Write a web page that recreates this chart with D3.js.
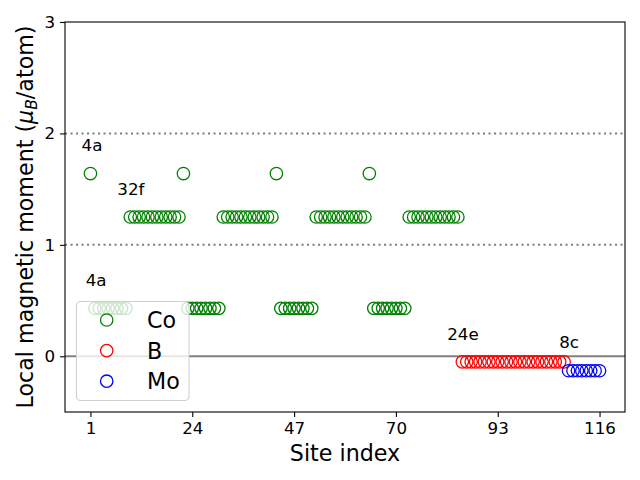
<!DOCTYPE html>
<html><head><meta charset="utf-8">
<script src="https://cdn.jsdelivr.net/npm/d3@7"></script>
<style>body{margin:0;background:#fff}text{font-family:"DejaVu Sans",sans-serif}</style>
</head><body><svg id="c" width="640" height="480"></svg>
<script>
// Site indices and moments (μB/atom)
const coSites = d3.range(1, 85);
// per 21-site block: 4a (high), 8 low, 12 at 32f level
const coBlock = [1.64, 0.43,0.43,0.43,0.43,0.43,0.43,0.43,0.43,
  1.25,1.25,1.25,1.25,1.25,1.25,1.25,1.25,1.25,1.25,1.25,1.25];
const coValues = [...coBlock, ...coBlock, ...coBlock, ...coBlock];
const bSites = d3.range(85, 109);
const bValues = [-0.05,-0.05,-0.05,-0.05,-0.05,-0.05,-0.05,-0.05,-0.05,-0.05,-0.05,-0.05,
  -0.05,-0.05,-0.05,-0.05,-0.05,-0.05,-0.05,-0.05,-0.05,-0.05,-0.05,-0.05];
const moSites = d3.range(109, 117);
const moValues = [-0.13,-0.13,-0.13,-0.13,-0.13,-0.13,-0.13,-0.13];
const xTicks = [1, 24, 47, 70, 93, 116];
const yTicks = [0, 1, 2, 3];
const labelText = ["4a", "32f", "4a", "24e", "8c"];
const labelX = [-1.0, 7.06, -0.07, 81.6, 106.9];
const labelY = [1.84, 1.45, 0.63, 0.145, 0.07];
const seriesNames = ["Co", "B", "Mo"];
const seriesColors = ["green", "red", "blue"];

const svg = d3.select("#c");
const L = 65, R = 625, T = 22, B = 412;
const x = d3.scaleLinear().domain([-4.75, 121.75]).range([L, R]);
const y = d3.scaleLinear().domain([-0.5, 3]).range([B, T]);

// reference lines
svg.selectAll("line.ref").data([1, 2]).join("line")
  .attr("x1", L).attr("x2", R).attr("y1", d => y(d)).attr("y2", d => y(d))
  .attr("stroke", "#808080").attr("stroke-width", 2).attr("stroke-dasharray", "2.1,3.4");
svg.append("line").attr("x1", L).attr("x2", R).attr("y1", y(0)).attr("y2", y(0))
  .attr("stroke", "#808080").attr("stroke-width", 2);

const series = [
  {sites: coSites, vals: coValues, color: seriesColors[0]},
  {sites: bSites, vals: bValues, color: seriesColors[1]},
  {sites: moSites, vals: moValues, color: seriesColors[2]}
];
series.forEach(s => {
  svg.append("g").selectAll("circle").data(s.sites).join("circle")
    .attr("cx", d => x(d)).attr("cy", (d, i) => y(s.vals[i])).attr("r", 6.2)
    .attr("fill", "none").attr("stroke", s.color).attr("stroke-width", 1.3);
});

// annotations
svg.append("g").selectAll("text").data(labelText).join("text")
  .attr("x", (d, i) => x(labelX[i])).attr("y", (d, i) => y(labelY[i]))
  .attr("font-size", 16.7).attr("fill", "#000").text(d => d);

// axes
const xa = svg.append("g").attr("transform", `translate(0,${B})`)
  .call(d3.axisBottom(x).tickValues(xTicks).tickFormat(d3.format("d")).tickSize(4.9).tickPadding(4.9).tickSizeOuter(0));
const ya = svg.append("g").attr("transform", `translate(${L},0)`)
  .call(d3.axisLeft(y).tickValues(yTicks).tickFormat(d3.format("d")).tickSize(4.9).tickPadding(4.9).tickSizeOuter(0));
[xa, ya].forEach(a => {
  a.select(".domain").remove();
  a.selectAll("text").attr("font-size", 16.7).attr("font-family", "DejaVu Sans").attr("fill", "#000");
  a.selectAll("line").attr("stroke", "#000").attr("stroke-width", 1.1);
});
svg.append("rect").attr("x", L).attr("y", T).attr("width", R - L).attr("height", B - T)
  .attr("fill", "none").attr("stroke", "#000").attr("stroke-width", 1.1);

// axis labels
svg.append("text").attr("x", (L + R) / 2).attr("y", 461).attr("text-anchor", "middle")
  .attr("font-size", 22.2).text("Site index");
const yl = svg.append("text").attr("transform", `translate(33,${(T + B) / 2}) rotate(-90)`)
  .attr("text-anchor", "middle").attr("font-size", 22.2);
yl.append("tspan").text("Local magnetic moment (");
yl.append("tspan").attr("font-style", "italic").text("μ");
yl.append("tspan").attr("font-style", "italic").attr("font-size", 15.5).attr("dy", 4).text("B");
yl.append("tspan").attr("dy", -4).text("/atom)");

// legend
const lg = svg.append("g");
lg.append("rect").attr("x", 76.5).attr("y", 301.5).attr("width", 112.5).attr("height", 99)
  .attr("rx", 4).attr("fill", "#fff").attr("fill-opacity", 0.8).attr("stroke", "#d0d0d0").attr("stroke-width", 1.1);
seriesNames.forEach((n, i) => {
  const cy = 320 + i * 30.6;
  lg.append("circle").attr("cx", 106.7).attr("cy", cy).attr("r", 6.2)
    .attr("fill", "none").attr("stroke", seriesColors[i]).attr("stroke-width", 1.3);
  lg.append("text").attr("x", 147).attr("y", cy + 8).attr("font-size", 22.2).text(n);
});
</script></body></html>
